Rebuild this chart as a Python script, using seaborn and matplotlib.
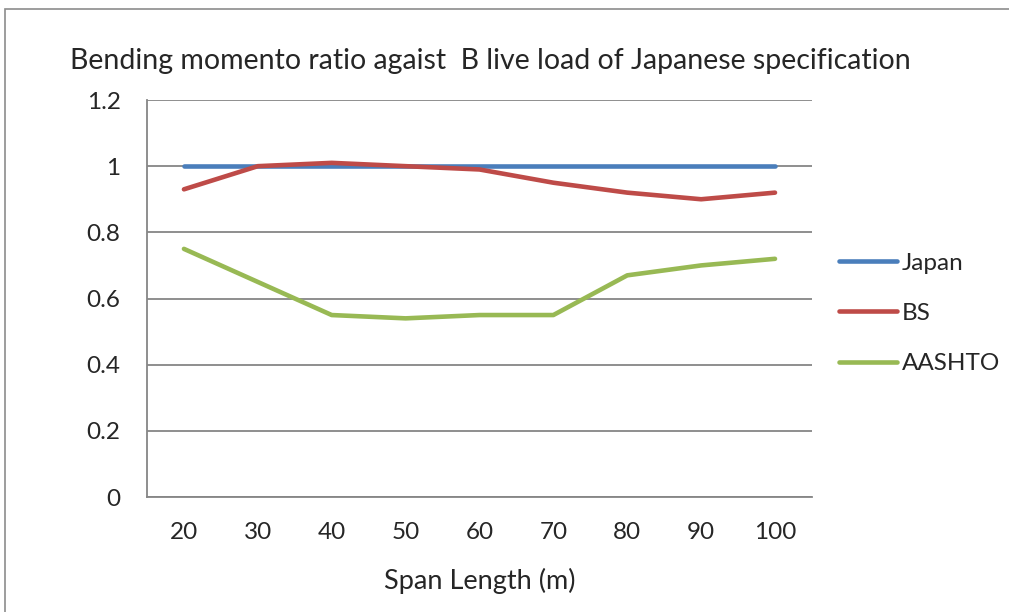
import matplotlib
matplotlib.use("Agg")
import matplotlib.pyplot as plt
import seaborn as sns
import pandas as pd
from matplotlib.patches import Rectangle

# Data
span_lengths = [20, 30, 40, 50, 60, 70, 80, 90, 100]
japan = [1.0, 1.0, 1.0, 1.0, 1.0, 1.0, 1.0, 1.0, 1.0]
bs = [0.93, 1.0, 1.01, 1.0, 0.99, 0.95, 0.92, 0.90, 0.92]
aashto = [0.75, 0.65, 0.55, 0.54, 0.55, 0.55, 0.67, 0.70, 0.72]
series_names = ["Japan", "BS", "AASHTO"]
colors = ["#4A7EBB", "#BE4B48", "#98B954"]
y_ticks = [0, 0.2, 0.4, 0.6, 0.8, 1.0, 1.2]
y_tick_labels = ["0", "0.2", "0.4", "0.6", "0.8", "1", "1.2"]

df = pd.DataFrame({
    "span": span_lengths * 3,
    "ratio": japan + bs + aashto,
    "series": sum([[n] * len(span_lengths) for n in series_names], []),
})

sns.set_style("white")
plt.rcParams["font.family"] = ["Lato", "DejaVu Sans"]

fig = plt.figure(figsize=(10.09, 6.12), dpi=100)
ax = fig.add_axes([0.1457, 0.1879, 0.659, 0.6487])

# outer chart border
fig.patches.append(Rectangle((0.005, -0.01), 1.2, 0.996, transform=fig.transFigure,
                             fill=False, edgecolor="#8C8C8C", lw=1.2))

sns.lineplot(data=df, x="span", y="ratio", hue="series", palette=colors,
             hue_order=series_names, lw=3.3, ax=ax, legend=False,
             solid_capstyle="round", solid_joinstyle="round", zorder=3)

ax.set_xlim(15, 105)
ax.set_ylim(0, 1.2)
ax.set_yticks(y_ticks)
ax.set_yticklabels(y_tick_labels, fontsize=17.5)
ax.set_xticks([15 + 10 * i for i in range(10)])
ax.set_xticklabels([])
ax.set_xticks(span_lengths, minor=True)
ax.set_xticklabels([str(s) for s in span_lengths], minor=True, fontsize=17.5)
ax.tick_params(axis="x", which="major", length=7, width=1.2, color="#868686", direction="out")
ax.tick_params(axis="x", which="minor", length=0, pad=18)
ax.tick_params(axis="y", length=4, width=1.2, color="#868686", direction="out", pad=15)

ax.grid(axis="y", color="#868686", lw=1.3, zorder=0)
ax.set_axisbelow(True)
for s in ["top", "right"]:
    ax.spines[s].set_visible(False)
for s in ["left", "bottom"]:
    ax.spines[s].set_color("#868686")
    ax.spines[s].set_linewidth(1.3)

ax.set_xlabel("Span Length (m)", fontsize=19.5, labelpad=18)
ax.set_ylabel("")

fig.text(0.069, 0.90, "Bending momento ratio agaist  B live load of Japanese specification",
         fontsize=20.5, va="center", ha="left")

handles = [plt.Line2D([], [], color=c, lw=3.3, solid_capstyle="round") for c in colors]
fig.legend(handles, series_names, loc="center left", bbox_to_anchor=(0.832, 0.488),
           frameon=False, fontsize=17.5, handlelength=2.35, handletextpad=0.2,
           labelspacing=1.2, borderpad=0, borderaxespad=0)

fig.savefig("out.png", dpi=100)
